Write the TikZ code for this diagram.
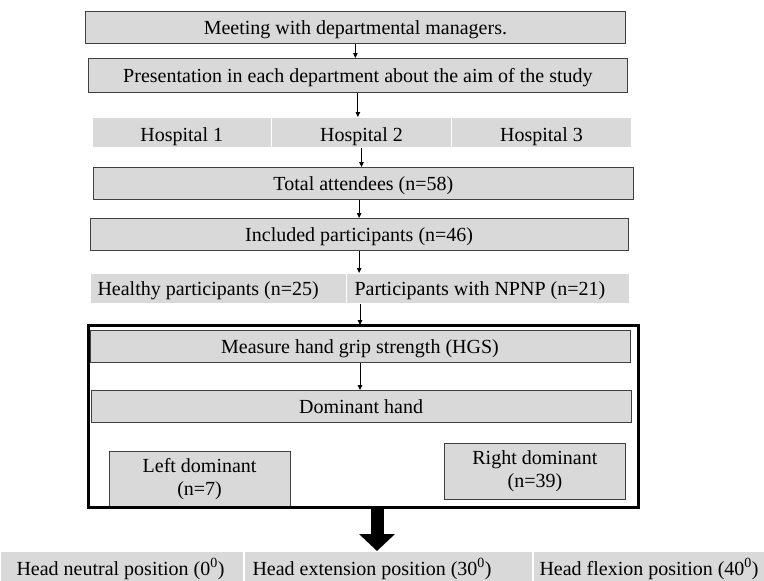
\documentclass[tikz,border=0pt]{standalone}
\usepackage{fontspec}
\setmainfont{Liberation Serif}
\usetikzlibrary{arrows.meta}
\definecolor{boxfill}{RGB}{217,217,217}
\definecolor{boxline}{RGB}{64,64,64}

\begin{document}
\begin{tikzpicture}[x=1pt, y=-1pt, font=\fontsize{20}{23}\selectfont,
	box/.style={draw=boxline, fill=boxfill, line width=0.8pt, inner sep=0pt, anchor=north west},
	line1/.style={text height=13.2pt, text depth=0pt},
	cell/.style={fill=boxfill, draw=white, line width=1pt, inner sep=0pt, anchor=north west, text height=17.2pt, text depth=0pt},
	arr/.style={-{Triangle[length=5pt,width=4.5pt]}, line width=0.9pt}]
	\useasboundingbox (0,0) rectangle (764,581);
	% recruitment chain
	\node[box, line1, minimum width=540pt, minimum height=32pt] (meet) at (85,11) {Meeting with departmental managers.};
	\node[box, line1, minimum width=539pt, minimum height=34pt] (pres) at (88,58) {Presentation in each department about the aim of the study};
	\node[cell, minimum width=179.5pt, minimum height=30pt] (hosp1) at (91.5,117) {Hospital 1};
	\node[cell, minimum width=180pt, minimum height=30pt] (hosp2) at (271,117) {Hospital 2};
	\node[cell, minimum width=180pt, minimum height=30pt] (hosp3) at (451,117) {Hospital 3};
	\node[box, line1, minimum width=540pt, minimum height=32pt] (total) at (93,167) {Total attendees (n=58)};
	\node[box, line1, minimum width=538.5pt, minimum height=32pt] (incl) at (89.5,218) {Included participants (n=46)};
	\node[cell, line1, inner xsep=7pt, minimum height=30pt] (healthy) at (90,273) {\makebox[242pt][l]{Healthy participants (n=25)}};
	\node[cell, line1, inner xsep=8pt, minimum height=30pt] (npnp) at (346,273) {\makebox[267pt][l]{Participants with NPNP (n=21)}};
	% measurement block
	\node[box, line1, minimum width=540pt, minimum height=32pt] (hgs) at (89.6,330) {Measure hand grip strength (HGS)};
	\node[box, line1, minimum width=540pt, minimum height=32pt] (domhand) at (90.7,390) {Dominant hand};
	\node[box, align=center, minimum width=181pt, minimum height=56pt] (leftdom) at (108.7,451) {Left dominant\\(n=7)};
	\node[box, align=center, minimum width=181pt, minimum height=56pt] (rightdom) at (444,443) {Right dominant\\(n=39)};
	\node[draw=black, line width=3pt, outer sep=0pt, inner sep=0pt, minimum width=550pt, minimum height=182pt, anchor=north west] (frame) at (88,325) {};
	% head positions
	\node[cell, inner xsep=16pt, minimum height=30pt] (neutral) at (0,551) {\makebox[211pt][l]{Head neutral position (0\textsuperscript{0})}};
	\node[cell, inner xsep=8pt, minimum height=30pt] (extension) at (244,551) {\makebox[272pt][l]{Head extension position (30\textsuperscript{0})}};
	\node[cell, inner xsep=6pt, minimum height=30pt] (flexion) at (533,551) {\makebox[219pt][l]{Head flexion position (40\textsuperscript{0})}};
	% connectors
	\draw[arr] (meet.south) -- (meet.south |- pres.north);
	\draw[arr] (pres.south) -- (pres.south |- hosp2.north);
	\draw[arr] (hosp2.south) -- (hosp2.south |- total.north);
	\draw[arr] (total.south -| incl.north) -- (incl.north);
	\draw[arr] (incl.south) -- (incl.south |- npnp.north);
	\draw[arr] (npnp.south -| hgs.north) -- (frame.north -| hgs.north);
	\draw[arr] (hgs.south) -- (hgs.south |- domhand.north);
	\draw[line width=13pt, -{Triangle[length=17pt,width=35pt]}] ([xshift=14pt]frame.south) -- ([xshift=14pt]frame.south |- extension.north);
\end{tikzpicture}
\end{document}
